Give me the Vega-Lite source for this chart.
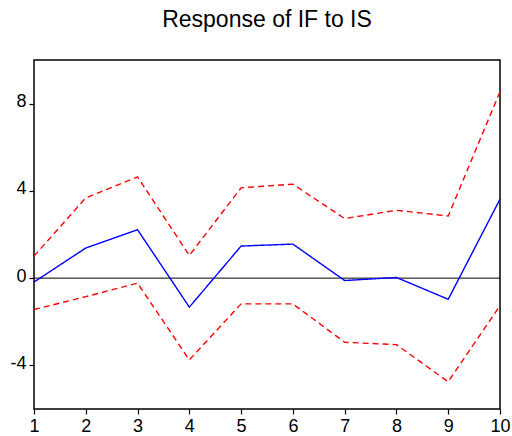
{
  "$schema": "https://vega.github.io/schema/vega-lite/v6.json",
  "autosize": "none",
  "padding": {"left": 34, "top": 60, "right": 12, "bottom": 27},
  "width": 466,
  "height": 349,
  "background": "white",
  "title": {
    "text": "Response of IF to IS",
    "font": "Liberation Sans",
    "fontSize": 23,
    "fontWeight": "normal",
    "color": "black",
    "offset": 28
  },
  "config": {
    "view": {"stroke": "black", "strokeWidth": 1.5},
    "axis": {
      "labelFont": "Liberation Sans",
      "labelFontSize": 18,
      "labelColor": "black",
      "tickColor": "black",
      "tickWidth": 1.2,
      "tickSize": 5,
      "domain": false,
      "grid": false,
      "title": null
    }
  },
  "datasets": {
    "irf": [
      {"step": 1, "series": "response", "value": -0.18},
      {"step": 2, "series": "response", "value": 1.38},
      {"step": 3, "series": "response", "value": 2.22},
      {"step": 4, "series": "response", "value": -1.33},
      {"step": 5, "series": "response", "value": 1.47},
      {"step": 6, "series": "response", "value": 1.56},
      {"step": 7, "series": "response", "value": -0.11},
      {"step": 8, "series": "response", "value": 0.03},
      {"step": 9, "series": "response", "value": -0.97},
      {"step": 10, "series": "response", "value": 3.62},
      {"step": 1, "series": "upper", "value": 1.01},
      {"step": 2, "series": "upper", "value": 3.68},
      {"step": 3, "series": "upper", "value": 4.64},
      {"step": 4, "series": "upper", "value": 1.04},
      {"step": 5, "series": "upper", "value": 4.14},
      {"step": 6, "series": "upper", "value": 4.31},
      {"step": 7, "series": "upper", "value": 2.73},
      {"step": 8, "series": "upper", "value": 3.11},
      {"step": 9, "series": "upper", "value": 2.85},
      {"step": 10, "series": "upper", "value": 8.55},
      {"step": 1, "series": "lower", "value": -1.44},
      {"step": 2, "series": "lower", "value": -0.85},
      {"step": 3, "series": "lower", "value": -0.23},
      {"step": 4, "series": "lower", "value": -3.75},
      {"step": 5, "series": "lower", "value": -1.18},
      {"step": 6, "series": "lower", "value": -1.18},
      {"step": 7, "series": "lower", "value": -2.94},
      {"step": 8, "series": "lower", "value": -3.05},
      {"step": 9, "series": "lower", "value": -4.75},
      {"step": 10, "series": "lower", "value": -1.26}
    ],
    "zero": [{"y": 0}]
  },
  "layer": [
    {
      "data": {"name": "zero"},
      "mark": {"type": "rule", "color": "black", "strokeWidth": 1},
      "encoding": {
        "y": {"field": "y", "type": "quantitative", "scale": {"domain": [-6, 10]}}
      }
    },
    {
      "data": {"name": "irf"},
      "mark": {"type": "line", "strokeWidth": 1.4},
      "encoding": {
        "x": {
          "field": "step",
          "type": "quantitative",
          "scale": {"domain": [1, 10], "nice": false, "zero": false},
          "axis": {"values": [1, 2, 3, 4, 5, 6, 7, 8, 9, 10], "labelPadding": 3, "labelFlush": false}
        },
        "y": {
          "field": "value",
          "type": "quantitative",
          "scale": {"domain": [-6, 10], "nice": false, "zero": false},
          "axis": {"values": [-4, 0, 4, 8], "labelPadding": 3, "labelOffset": -2, "labelExpr": "toString(datum.value)"}
        },
        "color": {
          "field": "series",
          "type": "nominal",
          "scale": {"domain": ["response", "upper", "lower"], "range": ["#0000ff", "#ff0000", "#ff0000"]},
          "legend": null
        },
        "strokeDash": {
          "field": "series",
          "type": "nominal",
          "scale": {"domain": ["response", "upper", "lower"], "range": [[1, 0], [6, 4], [6, 4]]},
          "legend": null
        },
        "detail": {"field": "series"}
      }
    }
  ]
}
